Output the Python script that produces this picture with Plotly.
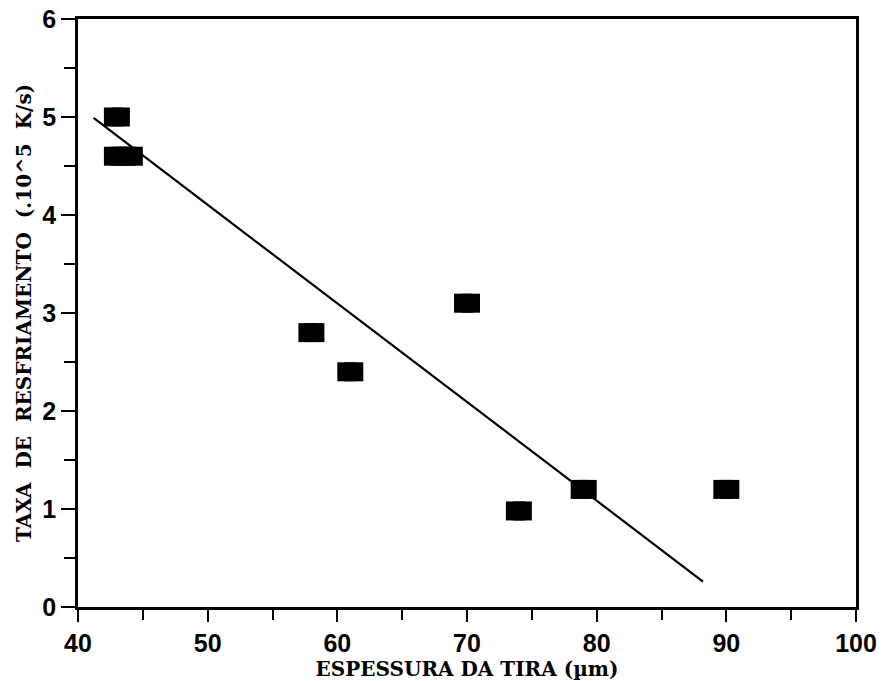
import plotly.graph_objects as go

# Data
thickness_um = [43, 43, 44, 58, 61, 70, 74, 79, 90]
cooling_rate = [5.0, 4.6, 4.6, 2.8, 2.4, 3.1, 0.98, 1.2, 1.2]

fit_x = [41.2, 88.2]
fit_y = [4.99, 0.26]

x_ticks = [40, 50, 60, 70, 80, 90, 100]
y_ticks = [0, 1, 2, 3, 4, 5, 6]

# rectangular markers are built from two overlapping squares (half-offset in x units)
half_offset = 0.27

fig = go.Figure()
for sgn in (-1, 1):
    fig.add_trace(go.Scatter(
        x=[v + sgn * half_offset for v in thickness_um], y=cooling_rate,
        mode="markers",
        marker=dict(symbol="square", size=19, color="black", line=dict(width=0)),
        showlegend=False, hoverinfo="skip"))

fig.add_trace(go.Scatter(
    x=fit_x, y=fit_y, mode="lines",
    line=dict(color="black", width=2.2), showlegend=False))

tickfont = dict(family="Liberation Sans, Arial, sans-serif", size=25, color="black", weight="bold")
titlefont = dict(family="DejaVu Serif, serif", size=20, color="black", weight="bold")

fig.update_layout(
    width=883, height=681,
    margin=dict(l=78, r=27, t=19, b=74),
    paper_bgcolor="white", plot_bgcolor="white",
    xaxis=dict(
        range=[40, 100], tickvals=x_ticks, ticktext=[str(v) for v in x_ticks],
        showgrid=False, zeroline=False, automargin=False,
        showline=True, linecolor="black", linewidth=2.5, mirror=True,
        ticks="outside", ticklen=12, tickwidth=2, tickcolor="black",
        minor=dict(dtick=5, ticks="outside", ticklen=10, tickwidth=2, tickcolor="black"),
        tickfont=tickfont,
        title=dict(text="ESPESSURA DA TIRA (µm)", font=titlefont, standoff=4),
    ),
    yaxis=dict(
        range=[0, 6], tickvals=y_ticks, ticktext=[str(v) for v in y_ticks],
        showgrid=False, zeroline=False, automargin=False,
        showline=True, linecolor="black", linewidth=2.5, mirror=True,
        ticks="outside", ticklen=14, tickwidth=2, tickcolor="black",
        minor=dict(dtick=0.5, ticks="outside", ticklen=11, tickwidth=2, tickcolor="black"),
        tickfont=tickfont,
        title=dict(text="TAXA  DE  RESFRIAMENTO  (.10^5  K/s)", font=titlefont, standoff=6),
    ),
)

fig.write_html("out.html")
